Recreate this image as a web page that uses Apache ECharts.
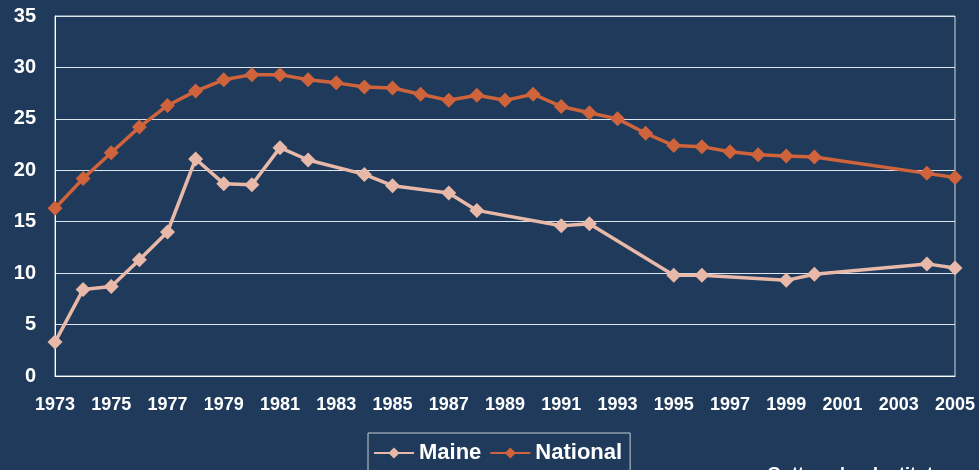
<!DOCTYPE html>
<html>
<head>
<meta charset="utf-8">
<script src="https://cdn.jsdelivr.net/npm/echarts@6/dist/echarts.min.js"></script>
<style>
html,body{margin:0;padding:0;background:#1f3a5a;}
#chart{width:979px;height:470px;}
</style>
</head>
<body>
<div id="chart"></div>
<script>
const years = [1973,1974,1975,1976,1977,1978,1979,1980,1981,1982,1983,1984,1985,1986,1987,1988,1989,1990,1991,1992,1993,1994,1995,1996,1997,1998,1999,2000,2001,2002,2003,2004,2005];
const maine = [3.3,8.4,8.7,11.3,14.0,21.1,18.7,18.6,22.2,21.0,null,19.6,18.5,null,17.8,16.1,null,null,14.6,14.8,null,null,9.8,9.8,null,null,9.3,9.9,null,null,null,10.9,10.5];
const national = [16.3,19.2,21.7,24.2,26.3,27.7,28.8,29.3,29.3,28.8,28.5,28.1,28.0,27.4,26.8,27.3,26.8,27.4,26.2,25.6,25.0,23.6,22.4,22.3,21.8,21.5,21.4,21.3,null,null,null,19.7,19.3];
const yTicks = {min:0, max:35, interval:5};
const sourceText = 'Guttmacher Institute';

const FONT = '"Liberation Sans", Arial, sans-serif';
const chart = echarts.init(document.getElementById('chart'));
chart.setOption({
  backgroundColor: '#1f3a5a',
  animation: false,
  textStyle: {fontFamily: FONT},
  grid: {left: 55, right: 24, top: 16, bottom: 94, show: true, borderColor: '#d4dae2', borderWidth: 1},
  legend: {
    left: 368, top: 433,
    padding: [9, 8, 8, 5],
    borderColor: '#c8cfd8', borderWidth: 1,
    itemWidth: 40, itemHeight: 14, itemGap: 8,
    textStyle: {color: '#ffffff', fontSize: 22, fontWeight: 'bold', fontFamily: FONT},
    data: ['Maine', 'National']
  },
  xAxis: {
    type: 'category', data: years.map(String), boundaryGap: false,
    axisLine: {lineStyle: {color: '#ffffff', width: 1}},
    axisTick: {show: false},
    axisLabel: {interval: 1, color: '#ffffff', fontSize: 18, fontWeight: 'bold', margin: 20, fontFamily: FONT},
    splitLine: {show: false}
  },
  yAxis: {
    type: 'value', min: yTicks.min, max: yTicks.max, interval: yTicks.interval,
    axisLine: {show: true, lineStyle: {color: '#ffffff', width: 1}},
    axisTick: {show: false},
    axisLabel: {color: '#ffffff', fontSize: 20, fontWeight: 'bold', margin: 19, fontFamily: FONT},
    splitLine: {lineStyle: {color: '#dfe5ec', width: 1}}
  },
  graphic: [{
    type: 'text', left: 767, top: 466,
    style: {text: sourceText, fill: '#ffffff', font: 'bold 18px ' + FONT}
  }],
  series: [
    {
      name: 'Maine', type: 'line', data: maine, connectNulls: true,
      symbol: 'diamond', symbolSize: 15,
      lineStyle: {color: '#e8b9a8', width: 3.5},
      itemStyle: {color: '#e8b9a8'}
    },
    {
      name: 'National', type: 'line', data: national, connectNulls: true,
      symbol: 'diamond', symbolSize: 15,
      lineStyle: {color: '#cf643c', width: 3.5},
      itemStyle: {color: '#cf643c'}
    }
  ]
});
</script>
</body>
</html>
